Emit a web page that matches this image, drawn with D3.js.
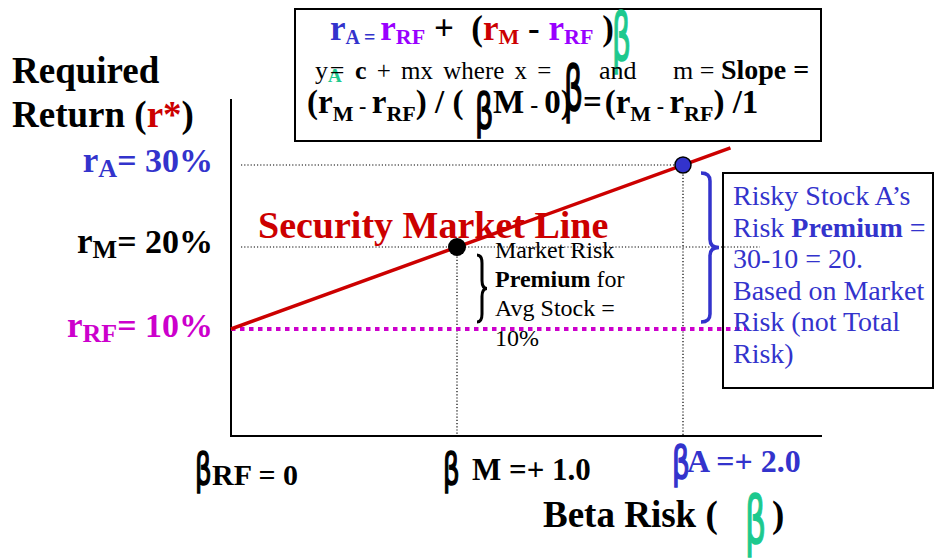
<!DOCTYPE html>
<html>
<head>
<meta charset="utf-8">
<script src="https://cdn.jsdelivr.net/npm/d3@7"></script>
<style>
  html, body { margin: 0; padding: 0; background: #fff; }
  svg text { white-space: pre; }
</style>
</head>
<body>
<svg id="chart" width="934" height="559"></svg>
<script>
// ---------------- data ----------------
const pointNames   = ["RF", "M", "A"];
const pointBetas   = [0, 1, 2];          // beta of risk-free, market, stock A
const pointReturns = [10, 20, 30];       // required return (%)
const smlBetas     = [0, 2.21];          // Security Market Line end points (beta)
const smlReturns   = [10, 32.1];         // Security Market Line end points (%)
const betaTickLabels   = ["RF = 0", "M =+ 1.0", "A =+ 2.0"];
const returnTickLabels = ["= 10%", "= 20%", "= 30%"];
const returnSubs       = ["RF", "M", "A"];
const marketPremiumLines = ["Market Risk", "Premium|for", "Avg Stock =", "10%"];
const stockPremiumLines  = ["Risky Stock A\u2019s", "Risk |Premium| =", "30-10 = 20.", "Based on Market", "Risk (not Total", "Risk)"];

// ---------------- setup ----------------
const svg = d3.select("#chart");
const SERIF = "'Liberation Serif','Times New Roman',serif";
const HAND  = "'DejaVu Sans',sans-serif";
const BLUE = "#3333cc", RED = "#cc0000", MAG = "#cc00cc", PURP = "#9900ff", TEAL = "#1dc98e";

const x = d3.scaleLinear().domain([0, 2]).range([231, 683]);
const y = d3.scaleLinear().domain([10, 30]).range([329, 165]);
const xMax = x.invert(822), yMin = y.invert(436), yMax = y.invert(99);

function rich(parent, px, py, parts, anchor, extra) {
  const t = parent.append("text").attr("x", px).attr("y", py)
    .attr("font-family", SERIF).attr("text-anchor", anchor || "start");
  if (extra) Object.entries(extra).forEach(([k, v]) => t.attr(k, v));
  let cur = 0;
  parts.forEach(p => {
    const off = p.o || 0;
    const ts = t.append("tspan").text(p.t)
      .attr("dy", off - cur)
      .attr("font-size", p.s)
      .attr("font-weight", p.b ? "bold" : "normal")
      .attr("fill", p.c || "#000");
    if (p.dx) ts.attr("dx", p.dx);
    cur = off;
  });
  return t;
}
function beta(parent, px, py, size, color, sx) {
  parent.append("text")
    .attr("transform", `translate(${px},${py}) scale(${sx || 0.62},1)`)
    .attr("font-family", HAND).attr("font-size", size)
    .attr("fill", color).attr("stroke", color).attr("stroke-width", 1.6)
    .text("\u03B2");
}
function brace(x0, x1, y0, y1) {
  const xc = (x0 + x1) / 2, ym = (y0 + y1) / 2, r = Math.min(8, (y1 - y0) / 6);
  return `M${x0},${y0} Q${xc},${y0} ${xc},${y0 + r} L${xc},${ym - r} Q${xc},${ym} ${x1},${ym}` +
         ` Q${xc},${ym} ${xc},${ym + r} L${xc},${y1 - r} Q${xc},${y1} ${x0},${y1}`;
}

// ---------------- axes ----------------
const axisG = svg.append("g");
axisG.append("line").attr("x1", x(0)).attr("x2", x(0)).attr("y1", y(yMin)).attr("y2", y(yMax))
  .attr("stroke", "#000").attr("stroke-width", 2);
axisG.append("line").attr("x1", x(0) - 1).attr("x2", x(xMax)).attr("y1", y(yMin)).attr("y2", y(yMin))
  .attr("stroke", "#000").attr("stroke-width", 2);

// guide lines (dotted)
const guides = svg.append("g").attr("stroke", "#000").attr("stroke-width", 1.2).attr("stroke-dasharray", "1.2,2");
guides.append("line").attr("x1", x(0) + 10).attr("x2", x(pointBetas[2])).attr("y1", y(pointReturns[2])).attr("y2", y(pointReturns[2]));
guides.append("line").attr("x1", x(0) + 10).attr("x2", x(2.34)).attr("y1", y(pointReturns[1])).attr("y2", y(pointReturns[1]));
[1, 2].forEach(i => {
  guides.append("line").attr("x1", x(pointBetas[i])).attr("x2", x(pointBetas[i]))
    .attr("y1", y(pointReturns[i])).attr("y2", y(yMin));
});
// risk-free line (magenta thick dotted)
svg.append("line").attr("x1", x(0)).attr("x2", x(2.28)).attr("y1", y(pointReturns[0])).attr("y2", y(pointReturns[0]))
  .attr("stroke", MAG).attr("stroke-width", 4).attr("stroke-dasharray", "4.5,4.5");

// right info box
svg.append("rect").attr("x", 723).attr("y", 173).attr("width", 210).attr("height", 215)
  .attr("fill", "none").attr("stroke", "#000").attr("stroke-width", 2);

// SML
const line = d3.line().x(d => x(d[0])).y(d => y(d[1]));
svg.append("path").datum(d3.zip(smlBetas, smlReturns)).attr("d", line)
  .attr("fill", "none").attr("stroke", RED).attr("stroke-width", 3.5);

// points
svg.append("circle").attr("cx", x(pointBetas[1])).attr("cy", y(pointReturns[1])).attr("r", 9)
  .attr("fill", "#000");
svg.append("circle").attr("cx", x(pointBetas[2])).attr("cy", y(pointReturns[2])).attr("r", 8)
  .attr("fill", BLUE).attr("stroke", "#000").attr("stroke-width", 1.5);

// braces
svg.append("path").attr("d", brace(x(pointBetas[1]) + 20, x(pointBetas[1]) + 30, y(pointReturns[1]) + 8, y(pointReturns[0]) - 7))
  .attr("fill", "none").attr("stroke", "#000").attr("stroke-width", 3);
svg.append("path").attr("d", brace(x(pointBetas[2]) + 18, x(pointBetas[2]) + 36, y(pointReturns[2]) + 8, y(pointReturns[0]) - 7))
  .attr("fill", "none").attr("stroke", BLUE).attr("stroke-width", 3.5);

// ---------------- texts ----------------
rich(svg, 12, 83, [{t: "Required", s: 37, b: 1}]);
rich(svg, 12, 127, [{t: "Return (", s: 37, b: 1}, {t: "r*", s: 37, b: 1, c: RED}, {t: ")", s: 37, b: 1}]);

const tickColors = [MAG, "#000", BLUE];
const tickOffsets = [8, 6, 7];
pointReturns.forEach((v, i) => {
  rich(svg, 213, y(v) + tickOffsets[i], [
    {t: "r", s: 35, b: 1, c: tickColors[i]},
    {t: returnSubs[i], s: 26, b: 1, c: tickColors[i], o: 5},
    {t: returnTickLabels[i], s: 34, b: 1, c: tickColors[i], o: 0}
  ], "end");
});

rich(svg, 258, 238, [{t: "Security Market Line", s: 38, b: 1, c: RED}]);

marketPremiumLines.forEach((ln, i) => {
  const segs = ln.split("|");
  const parts = segs.length > 1 ? [{t: segs[0], s: 24, b: 1}, {t: " " + segs[1], s: 24}] : [{t: ln, s: 24}];
  rich(svg, 495, 258 + i * 29.2, parts);
});

stockPremiumLines.forEach((ln, i) => {
  const segs = ln.split("|");
  const parts = segs.map((s, k) => ({t: s, s: 28, b: k === 1 ? 1 : 0, c: BLUE}));
  rich(svg, 733, 205 + i * 31.6, parts);
});

// x tick labels with hand-drawn betas
const xLabColors = ["#000", "#000", BLUE];
beta(svg, x(0) - 36, 484, 42, xLabColors[0]);
rich(svg, x(0) - 19, 485, [{t: betaTickLabels[0], s: 30, b: 1}]);
beta(svg, x(1) - 14, 484, 42, xLabColors[1]);
rich(svg, x(1) + 15, 480, [{t: betaTickLabels[1], s: 31, b: 1}]);
beta(svg, x(2) - 11, 478, 45, xLabColors[2]);
rich(svg, x(2) + 4, 472, [{t: betaTickLabels[2], s: 32, b: 1, c: BLUE}]);

// x-axis title
rich(svg, 543, 527, [{t: "Beta Risk (", s: 37, b: 1}]);
beta(svg, 745, 543, 66, TEAL, 0.5);
rich(svg, 772, 527, [{t: ")", s: 37, b: 1}]);

// ---------------- formula box ----------------
svg.append("rect").attr("x", 295).attr("y", 9).attr("width", 526).attr("height", 132)
  .attr("fill", "#fff").attr("stroke", "#000").attr("stroke-width", 2);

rich(svg, 330, 40, [
  {t: "r", s: 35, b: 1, c: BLUE},
  {t: "A", s: 20, b: 1, c: BLUE, o: 4},
  {t: " = ", s: 20, b: 1, c: BLUE, o: 4},
  {t: "r", s: 35, b: 1, c: PURP, o: 0},
  {t: "RF", s: 22, b: 1, c: PURP, o: 4},
  {t: " +  (", s: 35, b: 1, o: 0},
  {t: "r", s: 35, b: 1, c: RED},
  {t: "M", s: 22, b: 1, c: RED, o: 4},
  {t: " - ", s: 35, b: 1, o: 0},
  {t: "r", s: 35, b: 1, c: PURP},
  {t: "RF", s: 22, b: 1, c: PURP, o: 4},
  {t: " )", s: 35, b: 1, o: 0}
]);
beta(svg, 612, 60, 66, TEAL, 0.45);

// line 2
rich(svg, 315, 79, [
  {t: "y", s: 26},
  {t: "A", s: 19, b: 1, c: TEAL, o: 3},
  {t: "= ", s: 26, o: 0, dx: -12},
  {t: "c", s: 26, b: 1},
  {t: " + mx where x = ", s: 25}
], "start", {"word-spacing": 4});
beta(svg, 564, 110, 62, "#000", 0.48);
rich(svg, 599, 79, [{t: "and", s: 26}]);
rich(svg, 673, 79, [{t: "m = ", s: 26}, {t: "Slope =", s: 28, b: 1}]);

// line 3
rich(svg, 307, 113, [
  {t: "(r", s: 33, b: 1},
  {t: "M", s: 22, b: 1, o: 8},
  {t: " - ", s: 22, b: 1, o: 0},
  {t: "r", s: 33, b: 1},
  {t: "RF", s: 22, b: 1, o: 8},
  {t: ") / (", s: 33, b: 1, o: 0}
]);
beta(svg, 475, 128, 48, "#000", 0.6);
rich(svg, 493, 113, [
  {t: "M", s: 33, b: 1},
  {t: " - ", s: 24, b: 1},
  {t: "0)", s: 33, b: 1},
  {t: " =", s: 33, b: 1, dx: 3},
  {t: "(r", s: 33, b: 1, dx: 3},
  {t: "M", s: 22, b: 1, o: 8},
  {t: " - ", s: 22, b: 1, o: 0},
  {t: "r", s: 33, b: 1},
  {t: "RF", s: 22, b: 1, o: 8},
  {t: ") /1", s: 33, b: 1, o: 0}
]);
</script>
</body>
</html>
